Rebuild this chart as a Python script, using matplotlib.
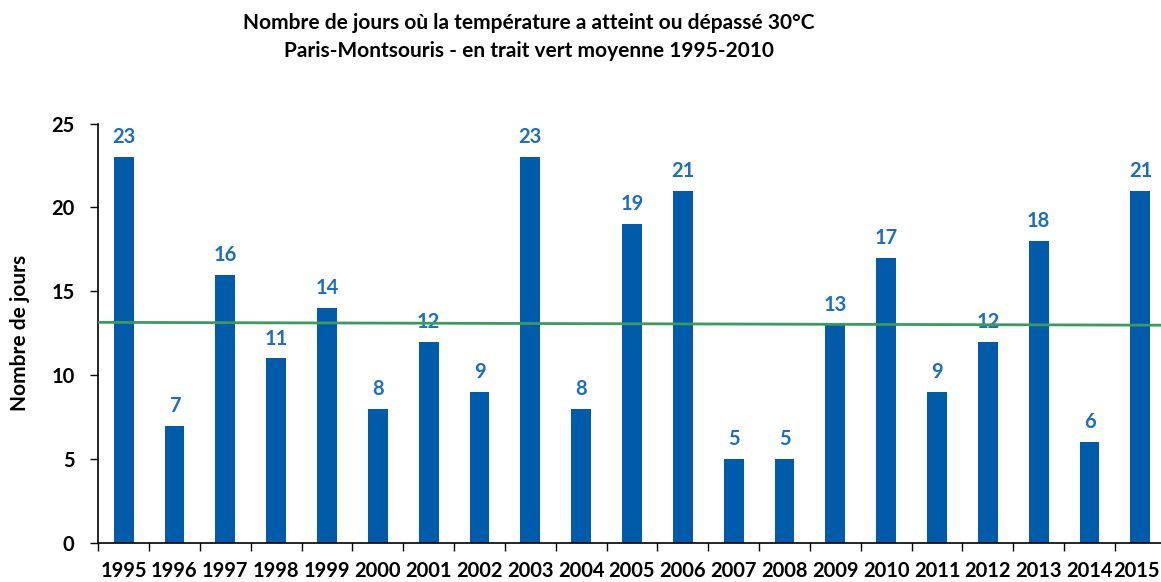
import matplotlib
matplotlib.use("Agg")
import matplotlib.pyplot as plt
import matplotlib.transforms as mtransforms
import numpy as np

years = [str(y) for y in range(1995, 2016)]
days = [23, 7, 16, 11, 14, 8, 12, 9, 23, 8, 19, 21, 5, 5, 13, 17, 9, 12, 18, 6, 21]
mean_line = [13.15, 12.98]  # green line level at left and right ends

title_l1 = "Nombre de jours où la température a atteint ou dépassé 30°C"
title_l2 = "Paris-Montsouris - en trait vert moyenne 1995-2010"
ylabel = "Nombre de jours"

plt.rcParams['font.family'] = ['Lato', 'DejaVu Sans']

fig = plt.figure(figsize=(11.61, 5.82), dpi=100)
W, H = 1161, 582
x0, x1 = 98.2, 1165.8
y0, y1 = 543, 123.5
ax = fig.add_axes([x0 / W, 1 - y0 / H, (x1 - x0) / W, (y0 - y1) / H])

x = np.arange(len(years))
ax.bar(x, days, width=0.39, color='#005BAA', zorder=2)
for xi, v in zip(x, days):
    ax.annotate(str(v), (xi, v), xytext=(0, 10), textcoords='offset points',
                ha='center', va='baseline', fontsize=14.5, fontweight='bold',
                color='#1E6EBE', zorder=3)

ax.plot([-0.5, len(years) - 0.5], mean_line, color='#3C9A5F', lw=2, zorder=4)

ax.set_xlim(-0.5, len(years) - 0.5)
ax.set_ylim(0, 25)
ax.set_yticks([0, 5, 10, 15, 20, 25])
ax.set_xticks(x)
ax.set_xticklabels(years)
ax.set_xticks(np.arange(len(years) + 1) - 0.5, minor=True)
ax.tick_params(axis='x', which='major', length=0, pad=13, labelsize=14.5)
ax.tick_params(axis='x', which='minor', length=6, width=1, direction='out')
ax.tick_params(axis='y', length=6, width=1, direction='out', pad=11, labelsize=14.5)
for lab in ax.get_xticklabels() + ax.get_yticklabels():
    lab.set_fontweight('bold')
ax.spines['top'].set_visible(False)
ax.spines['right'].set_visible(False)
ax.spines['left'].set_linewidth(1.2)
ax.spines['bottom'].set_linewidth(1.2)

# keep the last year label inside the picture
last = ax.get_xticklabels()[-1]
last.set_transform(last.get_transform() +
                   mtransforms.ScaledTranslation(-4 / 100, 0, fig.dpi_scale_trans))

fig.text(20.5 / W, 1 - 332.5 / H, ylabel, rotation=90, ha='center', va='center',
         fontsize=15, fontweight='bold')
fig.text(529 / W, 1 - 29 / H, title_l1, ha='center', va='baseline', fontsize=15,
         fontweight='bold')
fig.text(529 / W, 1 - 57 / H, title_l2, ha='center', va='baseline', fontsize=15,
         fontweight='bold')

fig.savefig('out.png', dpi=100)
